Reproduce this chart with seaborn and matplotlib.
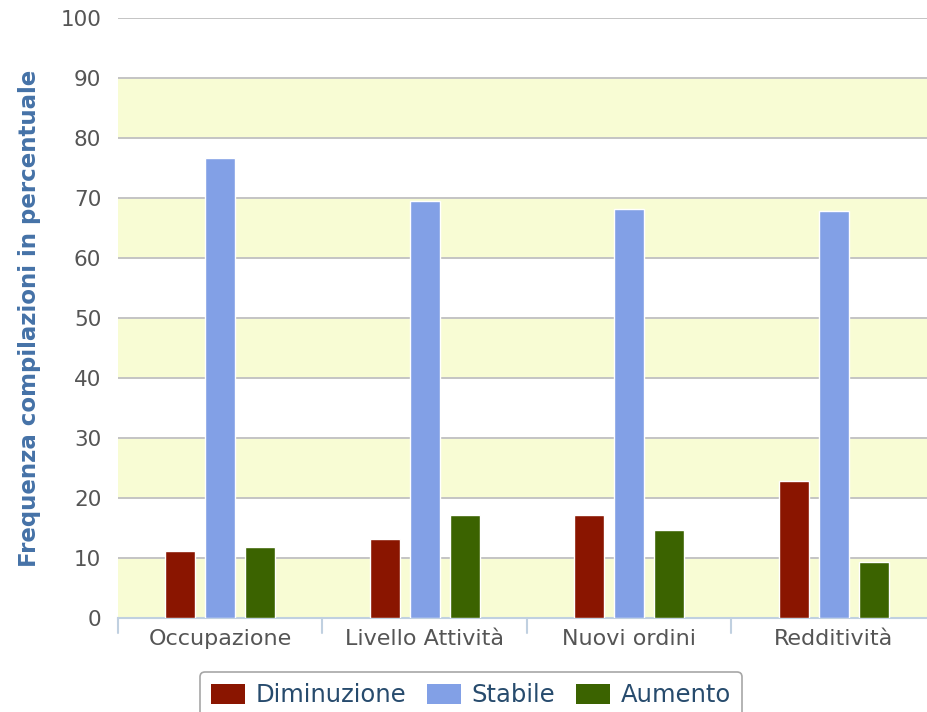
import matplotlib
matplotlib.use("Agg")
import matplotlib.pyplot as plt
from matplotlib.patches import Patch
import pandas as pd
import seaborn as sns

# Dati
categorie = ["Occupazione", "Livello Attività", "Nuovi ordini", "Redditività"]
serie = ["Diminuzione", "Stabile", "Aumento"]
diminuzione = [11.2, 13.2, 17.2, 22.8]
stabile = [76.7, 69.5, 68.2, 67.8]
aumento = [11.8, 17.2, 14.7, 9.3]
y_ticks = list(range(0, 101, 10))

colori = ["#8A1500", "#82A0E6", "#3B6300"]

df = pd.DataFrame({
    "categoria": categorie * 3,
    "serie": [serie[0]] * 4 + [serie[1]] * 4 + [serie[2]] * 4,
    "valore": diminuzione + stabile + aumento,
})

sns.set_theme(style="white")
plt.rcParams["font.family"] = ["DejaVu Sans"]

fig = plt.figure(figsize=(9.28, 7.12), dpi=100)
ax = fig.add_axes([118 / 928, 94 / 712, 818 / 928, 600 / 712])
ax.set_facecolor("white")

# Bande alternate (gialle e bianche)
for i, y0 in enumerate(y_ticks[:-1]):
    fc = "#F8FCD4" if i % 2 == 0 else "#FFFFFF"
    ax.axhspan(y0, y0 + 10, facecolor=fc, edgecolor="none", zorder=0)
for y in y_ticks[1:]:
    ax.axhline(y, color="#C4C4C4", lw=1.4, zorder=1)

sns.barplot(data=df, x="categoria", y="valore", hue="serie", order=categorie,
            hue_order=serie, palette=colori, width=0.587, gap=0.25,
            edgecolor="white", linewidth=1, saturation=1, ax=ax, zorder=3,
            legend=False)

ax.set_xlim(-0.5, 3.5)
ax.set_ylim(0, 100)
ax.set_yticks(y_ticks)
ax.set_yticklabels([str(v) for v in y_ticks], fontsize=15.5, color="#555555")
ax.tick_params(axis="y", length=0, pad=12)

ax.set_xticks(range(len(categorie)))
ax.set_xticklabels(categorie, fontsize=16, color="#555555")
ax.tick_params(axis="x", length=0, pad=8)
for xb in [-0.5, 0.5, 1.5, 2.5, 3.5]:
    ax.plot([xb, xb], [0, -0.025], transform=ax.get_xaxis_transform(),
            color="#C0D0E0", lw=1.5, clip_on=False, zorder=4)

for s in ["top", "right", "left"]:
    ax.spines[s].set_visible(False)
ax.spines["bottom"].set_color("#C0D0E0")
ax.spines["bottom"].set_linewidth(1.5)

ax.set_xlabel("")
ax.set_ylabel("Frequenza compilazioni in percentuale", fontsize=16.5,
              fontweight="bold", color="#4572A7", labelpad=14)

handles = [Patch(facecolor=c, edgecolor="none", label=s) for c, s in zip(colori, serie)]
leg = fig.legend(handles=handles, loc="upper center", ncol=3,
                 bbox_to_anchor=(471 / 928, 1 - 660 / 712),
                 bbox_transform=fig.transFigure, fontsize=17.5,
                 frameon=True, fancybox=True, edgecolor="#909090",
                 handlelength=1.4, handleheight=0.9, columnspacing=0.85,
                 handletextpad=0.45, borderpad=0.45)
for t in leg.get_texts():
    t.set_color("#274B6D")
leg.get_frame().set_linewidth(1.2)

fig.savefig("out.png", dpi=100)
